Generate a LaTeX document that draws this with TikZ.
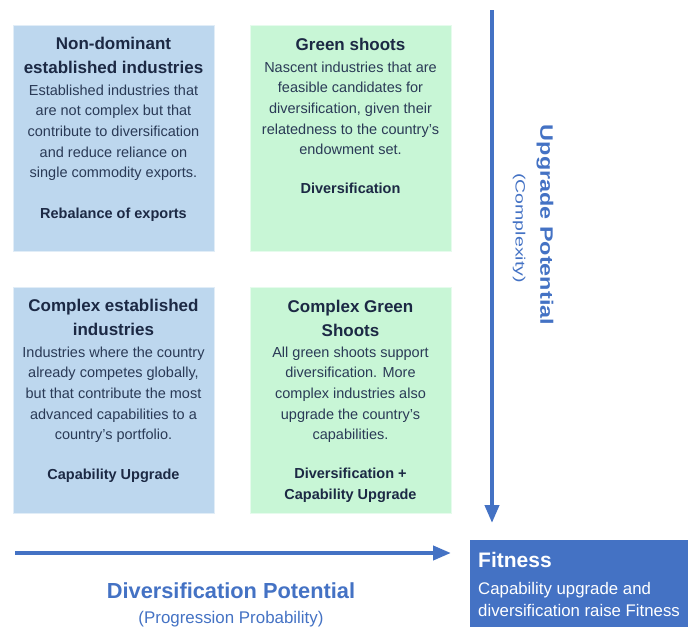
\documentclass[tikz,border=0pt]{standalone}
\usepackage{fontspec}
\setmainfont{Liberation Sans}
\usetikzlibrary{arrows.meta}
\definecolor{boxblue}{HTML}{BDD7EE}
\definecolor{boxgreen}{HTML}{C8F6D6}
\definecolor{navy}{HTML}{1C2944}
\definecolor{bodytext}{HTML}{2A3A56}
\definecolor{accent}{HTML}{4472C4}
\begin{document}
\begin{tikzpicture}[x=1pt,y=-1pt,
  quad/.style={minimum width=201pt,minimum height=226pt,inner sep=0pt,draw=white!55!#1,line width=0.6pt,fill=#1},
  ttl/.style={font=\bfseries\fontsize{17}{24}\selectfont,text=navy,align=center,inner sep=0pt},
  bdy/.style={font=\fontsize{14.5}{20.6}\selectfont,text=bodytext,align=center,inner sep=0pt,anchor=north},
  ftr/.style={font=\bfseries\fontsize{14.5}{21}\selectfont,text=navy,align=center,inner sep=0pt},
  axis/.style={draw=accent,line width=4pt,-{Triangle[length=18pt,width=14pt]}},
  fitlbl/.style={text=white,inner sep=0pt,anchor=base west}
]
\useasboundingbox (0,0) rectangle (688,627);

% quadrant boxes
\node[quad=boxblue] (q1) at (113.5,138.5) {};
\node[quad=boxgreen] (q2) at (350.5,138.5) {};
\node[quad=boxblue] (q3) at (113.5,400) {};
\node[quad=boxgreen] (q4) at (350.5,400) {};

% box 1
\node[ttl,anchor=north] (t1) at (113.5,36.5) {Non-dominant\\established industries};
\node[bdy] (b1) at (113.5,84.5) {Established industries that\\are not complex but that\\contribute to diversification\\and reduce reliance on\\single commodity exports.};
\node[ftr,anchor=base] (f1) at (113.5,218.5) {Rebalance of exports};

% box 2
\node[ttl,anchor=base] (t2) at (350.5,50) {Green shoots};
\node[bdy] (b2) at (350.5,61.5) {Nascent industries that are\\feasible candidates for\\diversification, given their\\relatedness to the country's\\endowment set.};
\node[ftr,anchor=base] (f2) at (350.5,193.5) {Diversification};

% box 3
\node[ttl,anchor=north] (t3) at (113.5,298.5) {Complex established\\industries};
\node[bdy] (b3) at (113.5,346.5) {Industries where the country\\already competes globally,\\but that contribute the most\\advanced capabilities to a\\country's portfolio.};
\node[ftr,anchor=base] (f3) at (113.5,479.5) {Capability Upgrade};

% box 4
\node[ttl,anchor=north] (t4) at (350.5,299.5) {Complex Green\\Shoots};
\node[bdy] (b4) at (350.5,346.5) {All green shoots support\\diversification. More\\complex industries also\\upgrade the country's\\capabilities.};
\node[ftr,anchor=north] (f4) at (350.5,468) {Diversification +\\Capability Upgrade};

% axes
\coordinate (vtop) at (492,10);
\coordinate (vtip) at (492,523);
\draw[axis] (vtop) -- (vtip);
\coordinate (hstart) at (15,553);
\coordinate (htip) at (451,553);
\draw[axis] (hstart) -- (htip);

% axis labels
\node[inner sep=0pt,anchor=base,text=accent,font=\bfseries\fontsize{21.8}{26}\selectfont] (dp) at (231,598) {Diversification Potential};
\node[inner sep=0pt,anchor=base,text=accent,font=\fontsize{16.9}{20}\selectfont] (pp) at (231,623) {(Progression Probability)};
\node[inner sep=0pt,rotate=-90,text=accent,font=\bfseries\fontsize{18}{22}\selectfont] (up) at (545,225) {\scalebox{1.3}[1]{Upgrade Potential}};
\node[inner sep=0pt,rotate=-90,text=accent,font=\fontsize{13.5}{16}\selectfont] (cx) at (519,228) {\scalebox{1.45}[1]{(Complexity)}};

% fitness box
\node[fill=accent,minimum width=218pt,minimum height=87pt,inner sep=0pt] (fit) at (579,583.5) {};
\node[fitlbl,font=\bfseries\fontsize{21}{24}\selectfont] (fitt) at (478,567.5) {Fitness};
\node[fitlbl,font=\fontsize{16.8}{20}\selectfont] (fit1) at (478,594) {Capability upgrade and};
\node[fitlbl,font=\fontsize{16.8}{20}\selectfont] (fit2) at (478,616) {diversification raise Fitness};
\end{tikzpicture}
\end{document}
